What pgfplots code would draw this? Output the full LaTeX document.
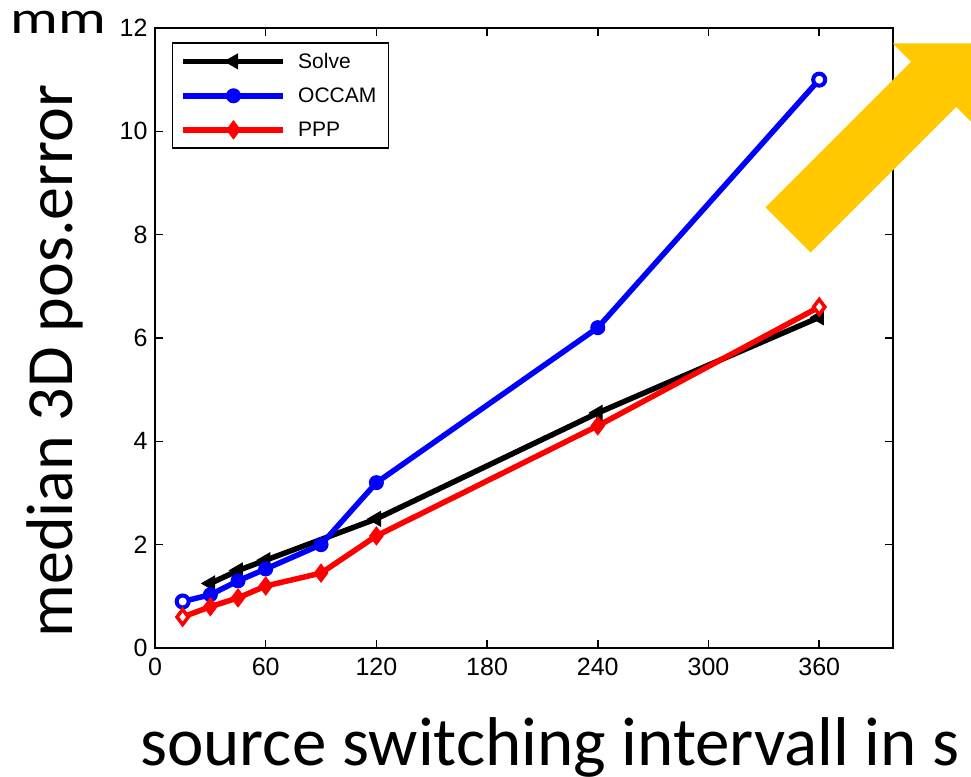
\documentclass[border=0pt]{standalone}
\usepackage{pgfplots}
\pgfplotsset{compat=1.18}
\usepackage{fontspec}
\setmainfont{Liberation Sans}
\newfontfamily\calibri{Carlito}
\definecolor{arrowyellow}{RGB}{255,200,0}

\begin{document}
\begin{tikzpicture}[x=1pt,y=1pt]
\useasboundingbox (0,0) rectangle (971,776);
\begin{axis}[
  at={(155pt,128pt)}, anchor=south west,
  scale only axis, width=738pt, height=620pt,
  xmin=0, xmax=400, ymin=0, ymax=12,
  xtick={0,60,...,360}, ytick={0,2,...,12},
  tick align=inside, major tick length=8pt,
  axis line style={line width=2pt},
  every tick/.style={line width=1.5pt, black},
  tick label style={font=\fontsize{25}{25}\selectfont},
  xticklabel style={yshift=-7pt},
  yticklabel style={xshift=-4pt},
  /pgf/number format/assume math mode=true,
  legend cell align=left,
  legend style={draw=black, line width=1.5pt, fill=white,
    at={(0.023,0.977)}, anchor=north west,
    font=\fontsize{21}{21}\selectfont,
    nodes={inner sep=4pt}, row sep=10pt, inner xsep=8pt, inner ysep=6pt,
    /tikz/every odd column/.append style={column sep=8pt}},
  legend image code/.code={\draw[mark repeat=2,mark phase=2,#1] plot coordinates {(0pt,0pt) (50pt,0pt) (100pt,0pt)};},
]
\addplot[black, line width=5.5pt, mark=triangle*, mark size=8.5pt,
  mark options={rotate=90, line width=1pt, fill=black}]
  coordinates {(30,1.25)(45,1.5)(60,1.7)(120,2.5)(240,4.55)(360,6.4)};
\addlegendentry{Solve}
\addplot[blue, line width=5.5pt, mark=*, mark size=7pt,
  mark options={line width=1pt, fill=blue}]
  coordinates {(15,0.9)(30,1.03)(45,1.3)(60,1.53)(90,2.0)(120,3.2)(240,6.2)(360,11.0)};
\addlegendentry{OCCAM}
\addplot[red, line width=5.5pt, mark=diamond*, mark size=9pt,
  mark options={line width=1pt, fill=red}]
  coordinates {(15,0.6)(30,0.8)(45,0.97)(60,1.2)(90,1.45)(120,2.17)(240,4.3)(360,6.6)};
\addlegendentry{PPP}
\addplot[blue, only marks, mark=*, mark size=6pt, forget plot,
  mark options={line width=4pt, fill=white}]
  coordinates {(15,0.9)(360,11.0)};
\addplot[red, only marks, mark=diamond*, mark size=7.5pt, forget plot,
  mark options={line width=3.5pt, fill=white}]
  coordinates {(15,0.6)(360,6.6)};
\end{axis}
\begin{scope}
\clip (0,0) rectangle (971,776);
\fill[arrowyellow] (765.4,568.6) -- (810.6,523.4) -- (956.3,669.1) -- (974.7,650.7)
  -- (974.7,732.7) -- (892.7,732.7) -- (911.1,714.3) -- cycle;
\end{scope}
\node[anchor=base west, inner sep=0pt, xscale=1.3, font=\calibri\fontsize{46}{46}\selectfont] at (10,742) {mm};
\node[anchor=base, rotate=90, inner sep=0pt, font=\calibri\fontsize{66}{66}\selectfont] at (72,415) {median 3D pos.error};
\node[anchor=base, inner sep=0pt, font=\calibri\fontsize{69}{69}\selectfont] at (550,11) {source switching intervall in s};
\end{tikzpicture}
\end{document}
